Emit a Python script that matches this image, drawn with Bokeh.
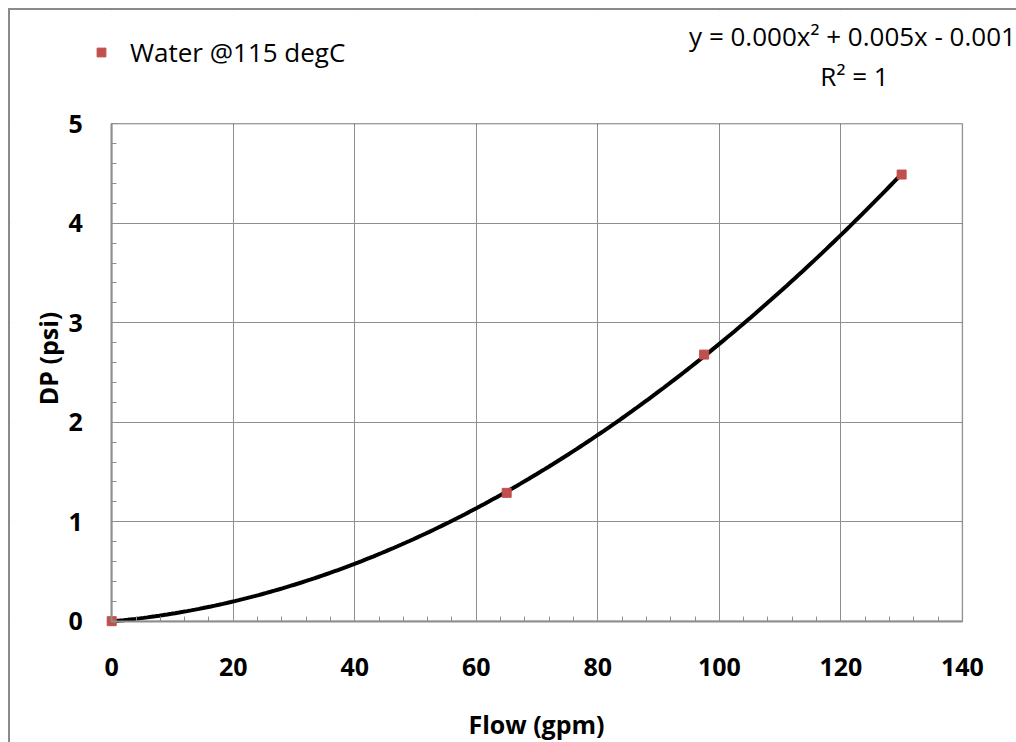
import math
import numpy as np
from bokeh.plotting import figure
from bokeh.models import Label, FixedTicker, BoxAnnotation, Legend, LegendItem
from bokeh.embed import file_html
from bokeh.resources import INLINE

# ---- data ----
flow = [0, 65, 97.5, 130]
dp = [0, 1.29, 2.68, 4.49]
series_name = "Water @115 degC"
eq_line1 = "y = 0.000x² + 0.005x - 0.001"
eq_line2 = "R² = 1"
x_label = "Flow (gpm)"
y_label = "DP (psi)"
x_ticks = [0, 20, 40, 60, 80, 100, 120, 140]
y_ticks = [0, 1, 2, 3, 4, 5]

# ---- layout (pixels) ----
W, H = 1008, 734            # element size (includes the 2px left/top border)
CW, CH = W - 2, H - 2       # drawable canvas
PLOT_L, PLOT_R, PLOT_T, PLOT_B = 101, 950, 113, 609   # plot-area box inside the canvas
x0, x1 = x_ticks[0], x_ticks[-1]
y0, y1 = y_ticks[0], y_ticks[-1]
sx = (PLOT_R - PLOT_L) / (x1 - x0)
sy = (PLOT_B - PLOT_T) / (y1 - y0)
x_range = (x0 - PLOT_L / sx, x0 + (CW - PLOT_L) / sx)
y_range = (y0 - (CH - PLOT_B) / sy, y0 + PLOT_B / sy)

FONT = "Open Sans"
GRID = "#8e8e8e"
RED = "#C0504D"

p = figure(width=W, height=H, x_range=x_range, y_range=y_range,
           output_backend="svg", toolbar_location=None,
           min_border_left=0, min_border_right=0, min_border_top=0, min_border_bottom=0)
p.styles = {"border-left": "2px solid #8a8a8a", "border-top": "2px solid #8a8a8a",
            "margin-left": "8px", "margin-top": "8px"}
p.outline_line_color = None
p.background_fill_color = "white"
p.border_fill_color = "white"

for ax, ticks, bounds in ((p.xaxis, x_ticks, (x0, x1)), (p.yaxis, y_ticks, (y0, y1))):
    step = (ticks[1] - ticks[0]) / 5
    ax.ticker = FixedTicker(ticks=ticks,
                            minor_ticks=list(np.round(np.arange(ticks[0], ticks[-1] + 1e-9, step), 4)))
    ax.fixed_location = 0
    ax.bounds = bounds
    ax.axis_line_color = GRID
    ax.axis_line_width = 2
    ax.major_tick_in = 6
    ax.major_tick_out = 0
    ax.minor_tick_in = 5
    ax.minor_tick_out = 0
    ax.major_tick_line_color = GRID
    ax.minor_tick_line_color = GRID
    ax.major_label_text_font = FONT
    ax.major_label_text_font_style = "bold"
    ax.major_label_text_font_size = "25px"
    ax.major_label_text_color = "black"
p.xaxis.major_label_standoff = 37
p.yaxis.major_label_standoff = 29

p.grid.grid_line_color = GRID
p.grid.grid_line_width = 1
p.xgrid.ticker = FixedTicker(ticks=x_ticks)
p.ygrid.ticker = FixedTicker(ticks=y_ticks)

# white masks keep the grid inside the plot area; black frame on top/right
for kw in (dict(right=x0), dict(left=x1), dict(bottom=y1), dict(top=y0)):
    p.add_layout(BoxAnnotation(fill_color="white", fill_alpha=1, line_color=None, level="underlay", **kw))
p.add_layout(BoxAnnotation(left=x0, right=x1, bottom=y0, top=y1, fill_alpha=0,
                           line_color="black", line_width=1.5, level="underlay"))

coef = np.polyfit(flow, dp, 2)
xs = np.linspace(min(flow), max(flow), 200)
p.line(xs, np.polyval(coef, xs), line_color="black", line_width=4)

pts = p.scatter(flow, dp, marker="square", size=9, fill_color=RED, line_color=RED)

legend = Legend(items=[LegendItem(label=series_name, renderers=[pts])],
                location=(80, CH - 58), border_line_color=None, background_fill_alpha=0,
                label_text_font=FONT, label_text_font_size="26px", label_text_color="black",
                glyph_width=22, glyph_height=22, label_standoff=18, padding=0, margin=0)
p.add_layout(legend)

def lab(text, x, y, size="26px", style="normal", angle=0):
    p.add_layout(Label(x=x, y=CH - y, x_units="screen", y_units="screen", text=text,
                       text_align="center", text_baseline="middle", text_font=FONT,
                       text_font_size=size, text_font_style=style, text_color="black",
                       angle=angle))

lab(eq_line1, 842, 23)
lab(eq_line2, 844, 63)
lab(x_label, 526, 711, size="25px", style="bold")
lab(y_label, 37, 346, size="25px", style="bold", angle=math.pi / 2)

open("out.html", "w").write(file_html(p, INLINE))
